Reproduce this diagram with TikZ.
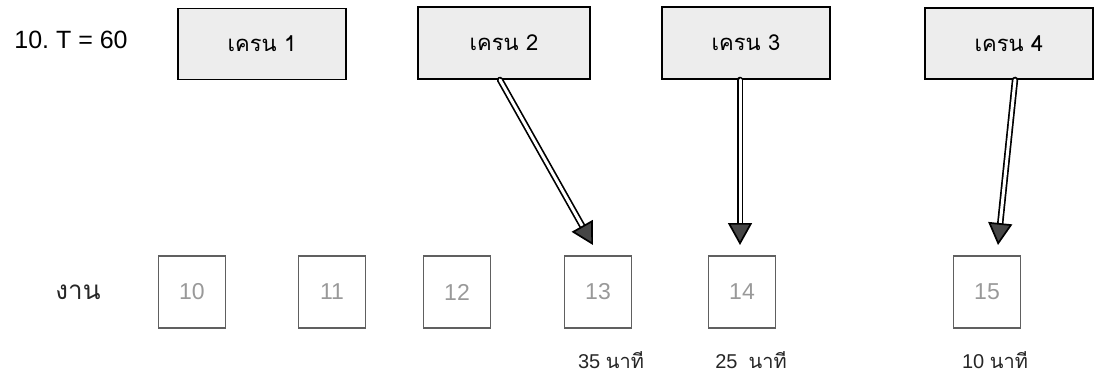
\documentclass[tikz,border=0pt]{standalone}
\usepackage{fontspec}
\setmainfont{Liberation Sans}
\newfontfamily\thaifont[Script=Thai]{Loma}
\usetikzlibrary{arrows.meta}

\begin{document}
\begin{tikzpicture}[
  x={(1pt,0pt)},
  y={(0pt,-1pt)},
  line cap=round,
  crane/.style={draw=black, line width=1.8pt, fill=gray!14,
    minimum width=168pt, minimum height=71pt, inner sep=0pt,
    font=\thaifont\fontsize{22}{22}\selectfont},
  job/.style={draw=gray!75!black, line width=1.3pt,
    minimum width=67pt, minimum height=72pt, inner sep=0pt,
    text=gray!80, font=\fontsize{23}{23}\selectfont},
  feed/.style={double=white, double distance=3pt, line width=1.7pt,
    -{Triangle[length=22pt, width=24pt, fill=gray!55!black]}},
  tlabel/.style={font=\fontsize{20}{20}\selectfont, text=black!85},
]

% 画布范围
\useasboundingbox (0,0) rectangle (1095,378);

% 题号
\node[font=\fontsize{25}{25}\selectfont] (title) at (71,40) {10.\ T = 60};

% 四台吊车
\node[crane] (k1) at (262,44) {เครน 1};
\node[crane, minimum width=172pt, minimum height=72pt] (k2) at (504,43) {เครน 2};
\node[crane, minimum height=72pt] (k3) at (746,43) {เครน 3};
\node[crane] (k4) at (1009,43.5) {เครน 4};

% 工作行
\node[font=\thaifont\fontsize{26}{26}\selectfont, text=black!85] (work) at (78,292) {งาน};
\node[job] (j10) at (192,292) {10};
\node[job] (j11) at (332,292) {11};
\node[job] (j12) at (457,292) {12};
\node[job] (j13) at (598,292) {13};
\node[job] (j14) at (742,292) {14};
\node[job] (j15) at (987,292) {15};

% 吊车 -> 工作
\coordinate (t13) at (593,245);
\coordinate (t14) at (740,245);
\coordinate (t15) at (998,245);
\draw[feed] ([xshift=-4pt]k2.south) -- (t13);
\draw[feed] ([xshift=-6pt]k3.south) -- (t14);
\draw[feed] ([xshift=6pt]k4.south) -- (t15);

% 所需时间
\node[tlabel] (m13) at (611,360) {35 {\thaifont นาที}};
\node[tlabel] (m14) at (751,360) {25\ \ {\thaifont นาที}};
\node[tlabel] (m15) at (995,360) {10 {\thaifont นาที}};

\end{tikzpicture}
\end{document}
